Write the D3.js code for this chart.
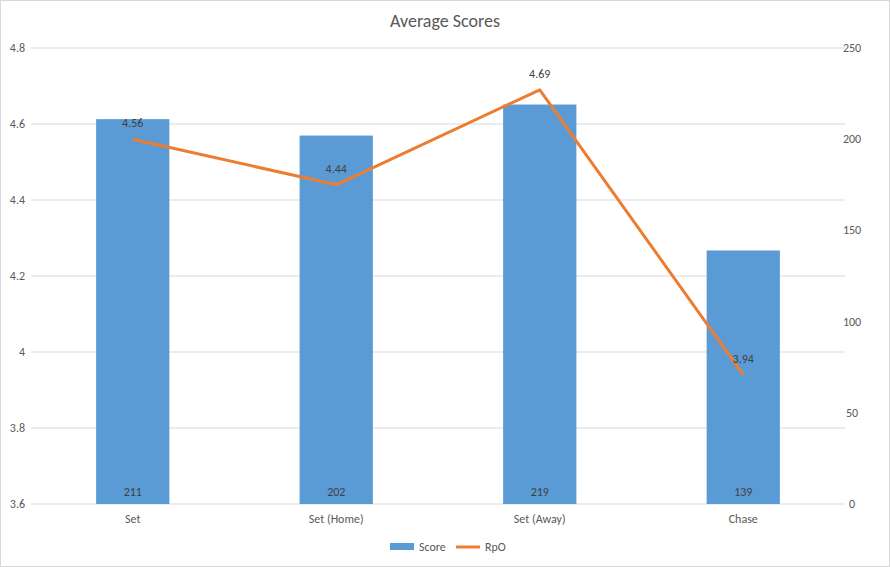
<!DOCTYPE html>
<html><head><meta charset="utf-8">
<script src="https://cdn.jsdelivr.net/npm/d3@7"></script>
<style>body{margin:0;background:#fff;font-family:Calibri,"Liberation Sans",Arial,sans-serif}</style>
</head><body>
<svg id="chart" width="890" height="567"></svg>
<script>
// values
var categories = ["Set", "Set (Home)", "Set (Away)", "Chase"];
var scores = [211, 202, 219, 139];
var rpo = [4.56, 4.44, 4.69, 3.94];
var leftTicks = [3.6, 3.8, 4, 4.2, 4.4, 4.6, 4.8];
var rightTicks = [0, 50, 100, 150, 200, 250];

var svg = d3.select("#chart");
var m = {l: 31, r: 45, t: 48, b: 63};
var W = 890, H = 567;

svg.append("rect").attr("x", 0.5).attr("y", 0.5).attr("width", W - 1).attr("height", H - 1)
  .attr("fill", "#fff").attr("stroke", "#d9d9d9");

var x = d3.scaleBand().domain(categories).range([m.l, W - m.r]).paddingInner(0.64).paddingOuter(0.32);
var yL = d3.scaleLinear().domain([3.6, 4.8]).range([H - m.b + 63 - 63 - 0, m.t]);
yL.range([504, 48]);
var yR = d3.scaleLinear().domain([0, 250]).range([504, 48]);

// gridlines
svg.selectAll(".grid").data(leftTicks).enter().append("line")
  .attr("x1", m.l).attr("x2", W - m.r)
  .attr("y1", d => yL(d)).attr("y2", d => yL(d))
  .attr("stroke", "#d9d9d9");

var txt = {fill: "#595959", "font-size": 12};
function style(s) { for (var k in txt) s.attr(k, txt[k]); return s; }

style(svg.selectAll(".lt").data(leftTicks).enter().append("text")
  .attr("x", 25).attr("y", d => yL(d) + 4).attr("text-anchor", "end").text(d => d));
style(svg.selectAll(".rt").data(rightTicks).enter().append("text")
  .attr("x", 852).attr("y", d => yR(d) + 4).attr("text-anchor", "middle").text(d => d));

// bars
svg.selectAll(".bar").data(scores).enter().append("rect")
  .attr("x", (d, i) => x(categories[i])).attr("width", x.bandwidth())
  .attr("y", d => yR(d)).attr("height", d => yR(0) - yR(d))
  .attr("fill", "#5B9BD5");
style(svg.selectAll(".bl").data(scores).enter().append("text")
  .attr("x", (d, i) => x(categories[i]) + x.bandwidth() / 2).attr("y", 496)
  .attr("text-anchor", "middle").attr("fill", "#404040").text(d => d)).attr("fill", "#404040");

// category labels
style(svg.selectAll(".cl").data(categories).enter().append("text")
  .attr("x", d => x(d) + x.bandwidth() / 2).attr("y", 523).attr("text-anchor", "middle").text(d => d));

// line
var line = d3.line().x((d, i) => x(categories[i]) + x.bandwidth() / 2).y(d => yL(d));
svg.append("path").datum(rpo).attr("d", line).attr("fill", "none")
  .attr("stroke", "#ED7D31").attr("stroke-width", 3).attr("stroke-linejoin", "round");
svg.selectAll(".ll").data(rpo).enter().append("text")
  .attr("x", (d, i) => x(categories[i]) + x.bandwidth() / 2).attr("y", d => yL(d) - 12)
  .attr("text-anchor", "middle").attr("font-size", 12).attr("fill", "#404040").text(d => d.toFixed(2));

// title
svg.append("text").attr("x", W / 2).attr("y", 27).attr("text-anchor", "middle")
  .attr("font-size", 18).attr("fill", "#595959").text("Average Scores");

// legend
var lg = svg.append("g").attr("transform", "translate(390,547)");
lg.append("rect").attr("x", 0).attr("y", -4).attr("width", 24).attr("height", 7).attr("fill", "#5B9BD5");
style(lg.append("text").attr("x", 29).attr("y", 4).text("Score"));
lg.append("line").attr("x1", 66).attr("x2", 90).attr("y1", 0).attr("y2", 0)
  .attr("stroke", "#ED7D31").attr("stroke-width", 3);
style(lg.append("text").attr("x", 95).attr("y", 4).text("RpO"));
</script>
</body></html>
